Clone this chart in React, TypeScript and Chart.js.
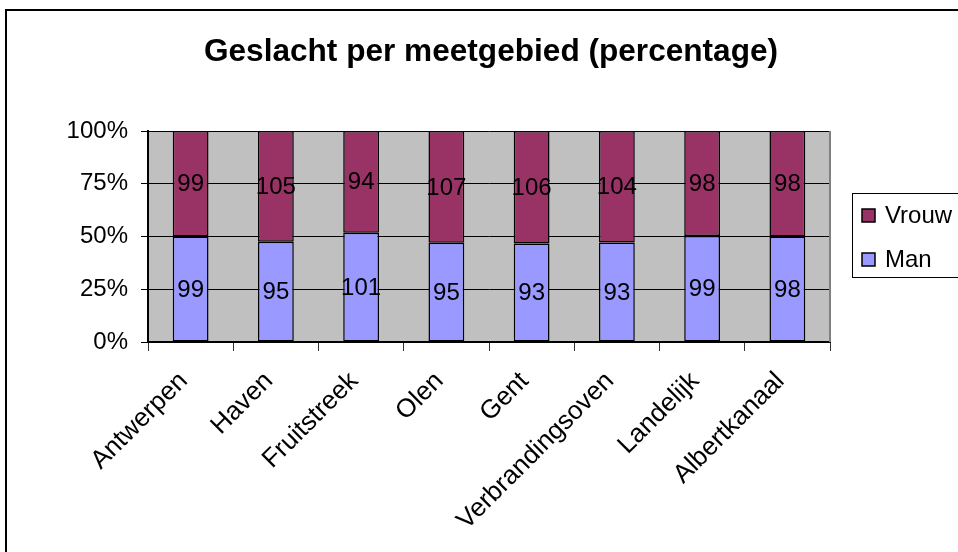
import { useEffect, useRef } from "react";
import { Chart, registerables } from "chart.js";

Chart.register(...registerables);

const titleText = "Geslacht per meetgebied (percentage)";
const categories = [
  "Antwerpen",
  "Haven",
  "Fruitstreek",
  "Olen",
  "Gent",
  "Verbrandingsoven",
  "Landelijk",
  "Albertkanaal",
];
const manCounts = [99, 95, 101, 95, 93, 93, 99, 98];
const vrouwCounts = [99, 105, 94, 107, 106, 104, 98, 98];
const yTickValues = [0, 25, 50, 75, 100];
const seriesNames = ["Man", "Vrouw"];
const seriesColors = ["#9999FF", "#993366"];

const FONT = '"Liberation Sans", Arial, sans-serif';

const totals = categories.map((_, i) => manCounts[i] + vrouwCounts[i]);
const manPct = manCounts.map((v, i) => (v / totals[i]) * 100);
const vrouwPct = vrouwCounts.map((v, i) => (v / totals[i]) * 100);
const rawCounts = [manCounts, vrouwCounts];

const decorPlugin = {
  id: "decor",
  beforeDraw(chart: any) {
    const { ctx, chartArea } = chart;
    ctx.save();
    ctx.fillStyle = "#ffffff";
    ctx.fillRect(0, 0, chart.width, chart.height);
    // outer chart border
    ctx.strokeStyle = "#000000";
    ctx.lineWidth = 2;
    ctx.strokeRect(6, 10, chart.width + 20, chart.height + 20);
    // plot area background
    ctx.fillStyle = "#C0C0C0";
    ctx.fillRect(chartArea.left, chartArea.top, chartArea.right - chartArea.left, chartArea.bottom - chartArea.top);
    // title
    ctx.fillStyle = "#000000";
    ctx.font = `bold 31.6px ${FONT}`;
    ctx.textAlign = "center";
    ctx.textBaseline = "middle";
    ctx.fillText(titleText, 491, 52);
    ctx.restore();
  },
  beforeDatasetsDraw(chart: any) {
    const { ctx, chartArea } = chart;
    ctx.save();
    ctx.strokeStyle = "#808080";
    ctx.lineWidth = 2;
    ctx.beginPath();
    ctx.moveTo(chartArea.right, chartArea.top);
    ctx.lineTo(chartArea.right, chartArea.bottom);
    ctx.stroke();
    ctx.restore();
  },
  afterDatasetsDraw(chart: any) {
    const { ctx } = chart;
    ctx.save();
    ctx.fillStyle = "#000000";
    ctx.font = `24px ${FONT}`;
    ctx.textAlign = "center";
    ctx.textBaseline = "middle";
    chart.data.datasets.forEach((_: any, di: number) => {
      const meta = chart.getDatasetMeta(di);
      meta.data.forEach((el: any, i: number) => {
        const cy = (el.y + el.base) / 2;
        ctx.fillText(String(rawCounts[di][i]), el.x, cy + 1);
      });
    });
    ctx.restore();
  },
  afterDraw(chart: any) {
    const { ctx } = chart;
    ctx.save();
    // legend box
    ctx.strokeStyle = "#000000";
    ctx.lineWidth = 1;
    ctx.strokeRect(852.5, 193.5, 140, 84);
    ctx.font = `24px ${FONT}`;
    ctx.textAlign = "left";
    ctx.textBaseline = "alphabetic";
    const order = [1, 0];
    order.forEach((di, k) => {
      const ds = chart.data.datasets[di];
      const sy = 209 + k * 44;
      ctx.fillStyle = ds.backgroundColor;
      ctx.fillRect(862, sy, 13, 13);
      ctx.strokeStyle = "#000000";
      ctx.lineWidth = 1.5;
      ctx.strokeRect(862, sy, 13, 13);
      ctx.fillStyle = "#000000";
      ctx.fillText(ds.label, 885, sy + 14);
    });
    ctx.restore();
  },
};

export default function App() {
  const canvasRef = useRef<HTMLCanvasElement | null>(null);

  useEffect(() => {
    if (!canvasRef.current) return;
    const chart = new Chart(canvasRef.current, {
      type: "bar",
      data: {
        labels: categories,
        datasets: [
          {
            label: seriesNames[0],
            data: manPct,
            backgroundColor: seriesColors[0],
            borderColor: "#000000",
            borderWidth: 1.5,
            borderSkipped: false,
            categoryPercentage: 1,
            barPercentage: 0.42,
          },
          {
            label: seriesNames[1],
            data: vrouwPct,
            backgroundColor: seriesColors[1],
            borderColor: "#000000",
            borderWidth: 1.5,
            borderSkipped: false,
            categoryPercentage: 1,
            barPercentage: 0.42,
          },
        ],
      },
      options: {
        responsive: false,
        animation: false,
        layout: { padding: { top: 131, right: 128, left: 0, bottom: 0 } },
        plugins: {
          legend: { display: false },
          title: { display: false },
          tooltip: { enabled: false },
        },
        scales: {
          x: {
            stacked: true,
            afterFit: (scale: any) => {
              scale.height = 210;
            },
            grid: {
              offset: true,
              drawOnChartArea: false,
              drawTicks: true,
              tickLength: 9,
              color: "#333333",
              lineWidth: 1,
            },
            border: { color: "#000000", width: 2 },
            ticks: {
              autoSkip: false,
              minRotation: 45,
              maxRotation: 45,
              padding: 15,
              labelOffset: -7,
              color: "#000000",
              font: { family: FONT, size: 26 },
            },
          },
          y: {
            stacked: true,
            min: 0,
            max: 100,
            afterFit: (scale: any) => {
              scale.width = 148;
            },
            afterBuildTicks: (scale: any) => {
              scale.ticks = yTickValues.map((v) => ({ value: v }));
            },
            grid: {
              color: "#000000",
              lineWidth: 1,
              drawTicks: true,
              tickLength: 7,
            },
            border: { color: "#000000", width: 2 },
            ticks: {
              padding: 13,
              color: "#000000",
              font: { family: FONT, size: 24 },
              callback: (v: any) => `${v}%`,
            },
          },
        },
      },
      plugins: [decorPlugin],
    });
    return () => chart.destroy();
  }, []);

  return (
    <div style={{ position: "absolute", left: 0, top: 0, width: 958, height: 552, overflow: "hidden" }}>
      <canvas ref={canvasRef} width={958} height={552} style={{ display: "block" }} />
    </div>
  );
}
